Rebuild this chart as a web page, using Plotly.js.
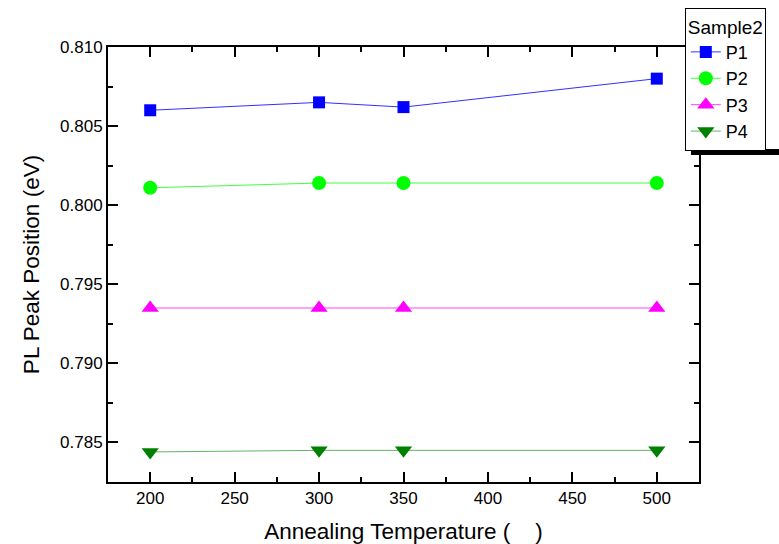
<!DOCTYPE html>
<html>
<head>
<meta charset="utf-8">
<script src="https://cdn.plot.ly/plotly-3.0.1.min.js"></script>
<style>html,body{margin:0;padding:0;background:#fff;}#chart{width:779px;height:544px;}</style>
</head>
<body>
<div id="chart"></div>
<script>
const temperatures = [200, 300, 350, 500];
const p1 = [0.8060, 0.8065, 0.8062, 0.8080];
const p2 = [0.8011, 0.8014, 0.8014, 0.8014];
const p3 = [0.7935, 0.7935, 0.7935, 0.7935];
const p4 = [0.7844, 0.7845, 0.7845, 0.7845];
const seriesNames = ['P1', 'P2', 'P3', 'P4'];
const legendTitle = 'Sample2';
const xTitle = 'Annealing Temperature (\u00a0\u00a0\u00a0\u00a0)';
const yTitle = 'PL Peak Position (eV)';

const font = 'Liberation Sans, Arial, sans-serif';
const styles = [
  {color: '#0000ff', line: '#3030ff', symbol: 'square', size: 12},
  {color: '#00ff00', line: '#40ff40', symbol: 'circle', size: 14},
  {color: '#ff00ff', line: '#ff40ff', symbol: 'triangle-up', size: 15},
  {color: '#008000', line: '#5fb55f', symbol: 'triangle-down', size: 15}
];
const ys = [p1, p2, p3, p4];
const traces = ys.map((y, i) => ({
  x: temperatures, y: y, name: seriesNames[i], type: 'scatter', mode: 'lines+markers',
  line: {color: styles[i].line, width: 1},
  marker: {color: styles[i].color, symbol: styles[i].symbol, size: styles[i].size}
}));

const axisCommon = {
  showline: true, linecolor: '#000', linewidth: 2, mirror: 'ticks',
  ticks: 'inside', ticklen: 10, tickwidth: 2, tickcolor: '#000',
  showgrid: false, zeroline: false,
  tickfont: {family: font, size: 17, color: '#000'}
};

const layout = {
  width: 779, height: 544,
  margin: {l: 108, r: 80, t: 47, b: 62, autoexpand: false},
  paper_bgcolor: '#fff', plot_bgcolor: '#fff',
  font: {family: font, color: '#000'},
  xaxis: Object.assign({}, axisCommon, {
    range: [175, 525], tick0: 200, dtick: 50,
    minor: {ticks: 'inside', ticklen: 5, tickwidth: 2, tickcolor: '#000', dtick: 25, tick0: 175},
    title: {text: xTitle, font: {family: font, size: 22.5, color: '#000'}, standoff: 17}
  }),
  yaxis: Object.assign({}, axisCommon, {
    range: [0.7825, 0.810], tick0: 0.785, dtick: 0.005, tickformat: '.3f',
    minor: {ticks: 'inside', ticklen: 5, tickwidth: 2, tickcolor: '#000', dtick: 0.0025, tick0: 0.7825},
    title: {text: yTitle, font: {family: font, size: 22.5, color: '#000'}, standoff: 14}
  }),
  showlegend: true,
  legend: {
    x: 0.976, y: 1.0897, xanchor: 'left', yanchor: 'top',
    bgcolor: '#fff', bordercolor: '#000', borderwidth: 1,
    font: {family: font, size: 18, color: '#000'},
    title: {text: legendTitle, font: {family: font, size: 19, color: '#000'}},
    tracegroupgap: 0, itemwidth: 30
  },
  shapes: [{
    type: 'rect', xref: 'paper', yref: 'paper',
    x0: 0.9865, x1: 1.16, y0: 0.7517, y1: 0.7655,
    fillcolor: '#000', line: {width: 0}, layer: 'above'
  }]
};

Plotly.newPlot('chart', traces, layout, {displayModeBar: false, staticPlot: true});
</script>
</body>
</html>
